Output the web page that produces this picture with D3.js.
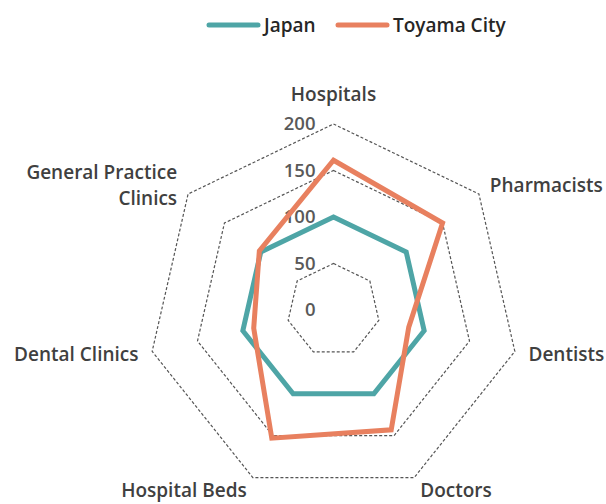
<!DOCTYPE html>
<html lang="en">
<head>
  <meta charset="utf-8">
  <title>Radar</title>
  <style>
    body { margin: 0; background: #fff; }
    svg text { font-family: "Open Sans", sans-serif; }
  </style>
</head>
<body>
  <div id="chart"></div>
  <script src="https://d3js.org/d3.v7.min.js"></script>
  <script>
    const axes = ['Hospitals', 'Pharmacists', 'Dentists', 'Doctors', 'Hospital Beds', 'Dental Clinics', 'General Practice Clinics'];
    const japan = [100, 100, 100, 100, 100, 100, 100];
    const toyama = [161, 150, 83, 143, 153, 88, 102];
    const ticks = [0, 50, 100, 150, 200];
    const seriesNames = ['Japan', 'Toyama City'];
    const colors = ['#4ea5a6', '#e8805f'];

    const width = 606, height = 504;
    const cx = 333.5, cy = 310;

    const svg = d3.select('#chart').append('svg')
      .attr('width', width)
      .attr('height', height);

    const r = d3.scaleLinear().domain([0, 200]).range([0, 186]);
    const angle = d3.scalePoint().domain(d3.range(axes.length).concat([axes.length]))
      .range([0, 2 * Math.PI]);

    const pt = (i, v) => {
      const a = angle(i);
      return [cx + Math.sin(a) * r(v), cy - Math.cos(a) * r(v)];
    };

    // dotted rings
    svg.append('g').selectAll('path')
      .data(ticks.filter(t => t > 0))
      .join('path')
      .attr('d', t => d3.line()(axes.map((_, i) => pt(i, t))) + 'Z')
      .attr('fill', 'none')
      .attr('stroke', '#555')
      .attr('stroke-width', 1.2)
      .attr('stroke-dasharray', '3,2');

    // tick labels
    svg.append('g').selectAll('text')
      .data(ticks)
      .join('text')
      .attr('x', cx - 18)
      .attr('y', t => cy - r(t))
      .attr('dy', '0.35em')
      .attr('text-anchor', 'end')
      .attr('font-size', 18.5)
      .attr('font-weight', 600)
      .attr('fill', '#595959')
      .text(t => t);

    // series
    const line = d3.line();
    [japan, toyama].forEach((vals, s) => {
      svg.append('path')
        .attr('d', line(vals.map((v, i) => pt(i, v))) + 'Z')
        .attr('fill', 'none')
        .attr('stroke', colors[s])
        .attr('stroke-width', 5)
        .attr('stroke-linejoin', 'miter');
    });

    // axis labels
    const lab = svg.append('g');
    axes.forEach((name, i) => {
      const a = angle(i);
      const s = Math.sin(a), c = Math.cos(a);
      const lr = r(200) + 14;
      const x = cx + s * lr;
      const y = cy - c * lr + (c > 0.9 ? -16 : c < -0.8 ? 0 : 0);
      const anchor = Math.abs(s) < 0.1 ? 'middle' : s > 0 ? 'start' : 'end';
      const words = name === 'General Practice Clinics' ? ['General Practice', 'Clinics'] : [name];
      const t = lab.append('text')
        .attr('text-anchor', anchor)
        .attr('font-size', 19)
        .attr('font-weight', 600)
        .attr('fill', '#404040');
      words.forEach((w, k) => {
        t.append('tspan')
          .attr('x', x)
          .attr('y', y + (k - (words.length - 1) / 2) * 26)
          .attr('dy', '0.35em')
          .text(w);
      });
    });

    // legend
    const legend = svg.append('g');
    const lx = [209, 338];
    seriesNames.forEach((n, s) => {
      legend.append('line')
        .attr('x1', lx[s]).attr('x2', lx[s] + 49)
        .attr('y1', 25).attr('y2', 25)
        .attr('stroke', colors[s])
        .attr('stroke-width', 5)
        .attr('stroke-linecap', 'round');
      legend.append('text')
        .attr('x', lx[s] + 55)
        .attr('y', 25)
        .attr('dy', '0.35em')
        .attr('font-size', 19)
        .attr('font-weight', 600)
        .attr('fill', '#262626')
        .text(n);
    });
  </script>
</body>
</html>
